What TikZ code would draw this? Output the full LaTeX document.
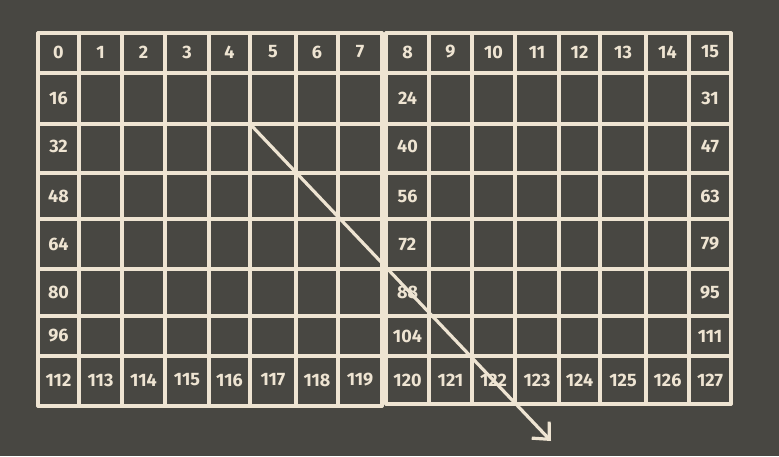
\documentclass[tikz,border=0pt]{standalone}
\usepackage{fontspec}
\setmainfont{Fira Sans}
\usepackage{tikz}
\usetikzlibrary{arrows.meta,calc}
\definecolor{board}{RGB}{72,71,66}
\definecolor{chalk}{RGB}{238,228,210}
\tikzset{grid line/.style={draw=chalk,line width=3.2pt,line cap=round},
  cell label/.style={text=chalk,inner sep=0pt,font=\fontsize{18}{18}\selectfont\bfseries},}

\begin{document}
\begin{tikzpicture}[x=1pt,y=-1pt]
	\fill[board] (0,0) rectangle (779,456);
	\useasboundingbox (0,0) rectangle (779,456);

	% left half of the table
	\foreach \x in {38,79,122,165,209,250,296,338,382}
		\draw[grid line] (\x,33) -- (\x,406);
	\foreach \y in {33,73,124,173,219,269,316,356,406}
		\draw[grid line] (38,\y) -- (382,\y);
	% right half of the table
	\foreach \x in {386,429,472,515,559,600,646,689,731}
		\draw[grid line] (\x,33) -- (\x,404);
	\foreach \y in {33,73,124,173,219,269,316,356,404}
		\draw[grid line] (386,\y) -- (731,\y);

	% cell centres
	\foreach \x [count=\i from 0] in {58.5,100.5,143.5,187,229.5,273,317,360,407.5,450.5,493.5,537,579.5,623,667.5,710}
		\coordinate (c\i) at (\x,0);
	\foreach \y [count=\j from 0] in {52,98.5,146,196,244,292.5,336,380}
		\coordinate (r\j) at (0,\y);

	\foreach \i in {0,...,15} {
		\pgfmathtruncatemacro\last{112+\i}
		\node[cell label] (top\i) at (c\i |- r0) {\i};
		\node[cell label] (bot\i) at (c\i |- r7) {\last};
	}
	\foreach \j in {1,...,6} {
		\pgfmathtruncatemacro\lft{16*\j}
		\pgfmathtruncatemacro\mid{16*\j+8}
		\pgfmathtruncatemacro\rgt{16*\j+15}
		\node[cell label] (lft\j) at (c0 |- r\j) {\lft};
		\node[cell label] (mid\j) at (c8 |- r\j) {\mid};
		\node[cell label] (rgt\j) at (c15 |- r\j) {\rgt};
	}

	\coordinate (start) at (250,124);
	\coordinate (stop) at (551,441);
	\draw[grid line,-{Straight Barb[length=13pt,width=24pt]}] (start) -- (stop);
\end{tikzpicture}
\end{document}
